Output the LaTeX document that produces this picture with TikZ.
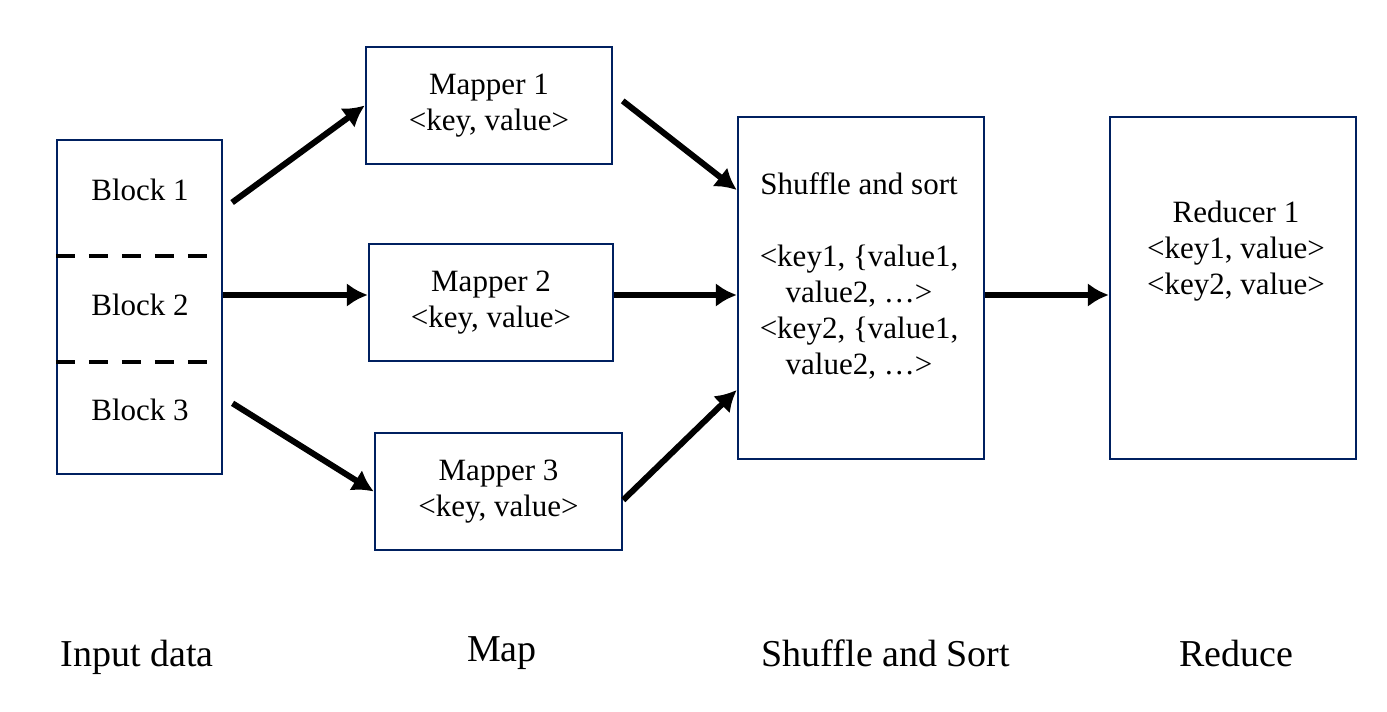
\documentclass[tikz,border=0pt]{standalone}
\usepackage{fontspec}
\setmainfont{Liberation Serif}
\usetikzlibrary{arrows.meta}
\definecolor{boxblue}{RGB}{0,32,96}
\begin{document}
\begin{tikzpicture}[x=1pt, y=-1pt, line width=6pt, >={Latex[length=21pt,width=24pt]},
    box/.style={draw=boxblue, line width=2.5pt, rectangle, inner sep=0pt},
    boxtext/.style={align=center, font=\fontsize{31}{36}\selectfont},
    phase/.style={anchor=base, font=\fontsize{38}{44}\selectfont}]

    \useasboundingbox (0,0) rectangle (1387,712);

    % Boxes
    \node at (139.5, 307) (inp) [box, minimum width=165pt, minimum height=334pt] {};
    \node at (489, 105.5) (m1) [box, minimum width=246pt, minimum height=117pt, boxtext] {Mapper 1\\<key, value>};
    \node at (491, 302.5) (m2) [box, minimum width=244pt, minimum height=117pt, boxtext] {Mapper 2\\<key, value>};
    \node at (498.5, 491.5) (m3) [box, minimum width=247pt, minimum height=117pt, boxtext, text depth=7pt] {Mapper 3\\<key, value>};
    \node at (861, 288) (sh) [box, minimum width=246pt, minimum height=342pt] {};
    \node at (1233, 288) (red) [box, minimum width=246pt, minimum height=342pt] {};

    % Texts in the boxes
    \node at (140, 190) (b1) [boxtext] {Block 1};
    \node at (140, 305) (b2) [boxtext] {Block 2};
    \node at (140, 410) (b3) [boxtext] {Block 3};
    \node at (859, 276) (shT) [boxtext] {Shuffle and sort\\[36pt]<key1, \{value1,\\value2, \dots>\\<key2, \{value1,\\value2, \dots>};
    \node at (1236, 251) (redT) [boxtext] {Reducer 1\\<key1, value>\\<key2, value>};

    % Block borders
    \draw[line width=4pt, dash pattern=on 19pt off 14pt] (inp.west |- 0,256) -- (210,256);
    \draw[line width=4pt, dash pattern=on 19pt off 14pt] (inp.west |- 0,362) -- (210,362);

    % Arrows
    \draw[->, shorten <=11pt] ([yshift=98pt]inp.east) -- (m1.west);
    \draw[->] ([yshift=12pt]inp.east) -- ([yshift=12pt]inp.east -| m2.west);
    \draw[->, shorten <=11pt] ([yshift=-90.5pt]inp.east) -- (m3.west);

    \draw[->, shorten <=12pt] ([yshift=12pt]m1.east) -- ([yshift=98pt]sh.west);
    \draw[->] ([yshift=7.5pt]m2.east) -- ([yshift=7.5pt]m2.east -| sh.west);
    \draw[->] ([yshift=-8.5pt]m3.east) -- ([yshift=-102pt]sh.west);

    \draw[->] ([yshift=-7pt]sh.east) -- ([yshift=-7pt]sh.east -| red.west);

    % Phases
    \node at (137, 666) (pin) [phase] {Input data};
    \node at (502, 661) (pmap) [phase] {Map};
    \node at (886, 666) (pshu) [phase] {Shuffle and Sort};
    \node at (1236, 666) (pred) [phase] {Reduce};

\end{tikzpicture}
\end{document}
